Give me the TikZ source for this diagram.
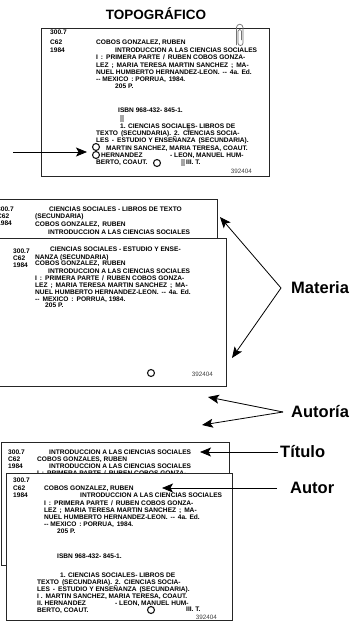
\documentclass[tikz,border=0pt]{standalone}
\usepackage{fontspec}
\setmainfont{Liberation Sans}
\usetikzlibrary{arrows.meta}
\newcommand{\crdtxt}[4]{\node[ctxt] (#1) at (#2,#3) {#4};}
\tikzset{
 ctxt/.style={anchor=base west, inner sep=0pt, yshift=-2.3pt, font=\fontsize{6.6}{7}\selectfont\bfseries, text=black},
 num/.style={anchor=base east, inner sep=0pt, yshift=-2.3pt, font=\fontsize{6.3}{7}\selectfont, text=black!75},
 card/.style={draw=black!85, fill=white, line width=0.8pt},
 hole/.style={circle, draw=black!90, line width=1.1pt, minimum size=7pt, inner sep=0pt},
 lbl/.style={anchor=west, inner sep=0pt, font=\fontsize{16.5}{18}\selectfont\bfseries},
 ttl/.style={inner sep=0pt, font=\fontsize{13.5}{15}\selectfont\bfseries},
 arr/.style={line width=0.8pt, -{Stealth[length=11pt,width=9pt,inset=2.5pt]}},
 blot/.style={fill=black!35},
 clipw/.style={draw=black!55, line width=0.7pt}
}
\begin{document}
\begin{tikzpicture}[x=1pt,y=-1pt]
\clip (0,0) rectangle (353,622);
\fill[white] (0,0) rectangle (353,622);

% ---------- title
\node[ttl] (topo) at (156,14) {TOPOGRÁFICO};

% ---------- card 1 (topografico)
\draw[card] (41,28) rectangle (269,176);
\fill[blot] (120,115) rectangle (124,122);
\fill[blot] (187,125) rectangle (190,132);
\fill[blot] (181,159) rectangle (185,166);
\crdtxt{a1}{50}{32}{300.7}
\crdtxt{a2}{50}{42}{C62}
\crdtxt{a3}{50}{50}{1984}
\crdtxt{a4}{96}{42}{COBOS GONZALEZ, RUBEN}
\crdtxt{a5}{115}{50}{INTRODUCCION A LAS CIENCIAS SOCIALES}
\crdtxt{a6}{96}{57}{I \,:\, PRIMERA PARTE \,/\, RUBEN COBOS GONZA-}
\crdtxt{a7}{96}{65}{LEZ \,;\, MARIA TERESA MARTIN SANCHEZ \,;\, MA-}
\crdtxt{a8}{96}{72}{NUEL HUMBERTO HERNANDEZ-LEON. \,-{}- \,4a. Ed.}
\crdtxt{a9}{96}{79}{-{}- MEXICO \,: PORRUA, \,1984.}
\crdtxt{a10}{115}{86}{205 P.}
\crdtxt{a11}{118}{110}{ISBN 968-432- 845-1.}
\crdtxt{a12}{120}{126}{1. CIENCIAS SOCIALES- LIBROS DE}
\crdtxt{a13}{96}{133}{TEXTO \,(SECUNDARIA). \,2. \,CIENCIAS SOCIA-}
\crdtxt{a14}{96}{140}{LES \,- \,ESTUDIO Y ENSEÑANZA \,(SECUNDARIA).}
\crdtxt{a15}{106}{148}{MARTIN SANCHEZ, MARIA TERESA, COAUT.}
\crdtxt{a16}{101}{155}{HERNANDEZ}
\crdtxt{a17}{170}{155}{- LEON, MANUEL HUM-}
\crdtxt{a18}{96}{162}{BERTO, COAUT.}
\crdtxt{a19}{186}{162}{III. T.}
\node[num] (a20) at (252,171) {392404};
\node[hole] (h1) at (96,147) {};
\node[hole] (h2) at (96,155) {};
\node[hole] (h3) at (157,163) {};
% paper clip
\draw[clipw] (236.5,45) -- (236.5,27.5) arc[start angle=180,end angle=0,radius=3.25pt]
  -- (243,43) arc[start angle=0,end angle=-180,radius=2.5pt] -- (238,31)
  arc[start angle=180,end angle=0,radius=1.75pt] -- (241.5,40);
% arrow to holes
\coordinate (la0) at (13,152);
\coordinate (la1) at (87,152);
\draw[arr] (la0) -- (la1);

% ---------- card 2 (materia, back)
\draw[card] (-5,199) rectangle (217,246);
\crdtxt{b1}{-3}{209}{300.7}
\crdtxt{b2}{-3}{216}{C62}
\crdtxt{b3}{-3}{223}{1984}
\crdtxt{b4}{49}{209}{CIENCIAS SOCIALES - LIBROS DE TEXTO}
\crdtxt{b5}{35}{216}{(SECUNDARIA)}
\crdtxt{b6}{35}{224}{COBOS GONZALEZ, \,RUBEN}
\crdtxt{b7}{48}{232}{INTRODUCCION A LAS CIENCIAS SOCIALES}

% ---------- card 3 (materia, front)
\draw[card] (-3,238) rectangle (226,386);
\crdtxt{c1}{13}{251}{300.7}
\crdtxt{c2}{13}{258}{C62}
\crdtxt{c3}{13}{265}{1984}
\crdtxt{c4}{50}{249}{CIENCIAS SOCIALES - ESTUDIO Y ENSE-}
\crdtxt{c5}{35}{257}{NANZA (SECUNDARIA)}
\crdtxt{c6}{35}{263}{COBOS GONZALEZ, \,RUBEN}
\crdtxt{c7}{48}{271}{INTRODUCCION A LAS CIENCIAS SOCIALES}
\crdtxt{c8}{35}{278}{I \,:\, PRIMERA PARTE \,/\, RUBEN COBOS GONZA-}
\crdtxt{c9}{35}{285}{LEZ \,;\, MARIA TERESA MARTIN SANCHEZ \,;\, MA-}
\crdtxt{c10}{35}{292}{NUEL HUMBERTO HERNANDEZ-LEON. \,-{}- \,4a. Ed.}
\crdtxt{c11}{35}{299}{-{}- \,MEXICO \,:\, PORRUA, 1984.}
\crdtxt{c12}{45}{305}{205 P.}
\node[hole] (h4) at (151,373) {};
\node[num] (c13) at (213,374) {392404};

% ---------- card 4 (titulo, back)
\draw[card] (1,442) rectangle (229,565);
\crdtxt{d1}{8}{452}{300.7}
\crdtxt{d2}{8}{459}{C62}
\crdtxt{d3}{8}{466}{1984}
\crdtxt{d4}{49}{452}{INTRODUCCION A LAS CIENCIAS SOCIALES}
\crdtxt{d5}{37}{459}{COBOS GONZALES, RUBEN}
\crdtxt{d6}{49}{466}{INTRODUCCION A LAS CIENCIAS SOCIALES}
\crdtxt{d7}{37}{473}{I \,:\, PRIMERA PARTE \,/\, RUBEN COBOS GONZA-}

% ---------- card 5 (autor, front)
\draw[card] (6,473) rectangle (232,620.6);
\crdtxt{e1}{13}{480}{300.7}
\crdtxt{e2}{13}{488}{C62}
\crdtxt{e3}{13}{495}{1984}
\crdtxt{e4}{44}{488}{COBOS GONZALEZ, RUBEN}
\crdtxt{e5}{80}{495}{INTRODUCCION A LAS CIENCIAS SOCIALES}
\crdtxt{e6}{44}{503}{I \,:\, PRIMERA PARTE \,/\, RUBEN COBOS GONZA-}
\crdtxt{e7}{44}{510}{LEZ \,;\, MARIA TERESA MARTIN SANCHEZ \,;\, MA-}
\crdtxt{e8}{44}{517}{NUEL HUMBERTO HERNANDEZ-LEON. \,-{}- \,4a. Ed.}
\crdtxt{e9}{44}{524}{-{}- MEXICO \,: PORRUA, \,1984.}
\crdtxt{e10}{57}{531}{205 P.}
\crdtxt{e11}{57}{556}{ISBN 968-432- 845-1.}
\crdtxt{e12}{60}{575}{1. CIENCIAS SOCIALES- LIBROS DE}
\crdtxt{e13}{37}{582}{TEXTO \,(SECUNDARIA). \,2. \,CIENCIAS SOCIA-}
\crdtxt{e14}{37}{589}{LES \,- \,ESTUDIO Y ENSEÑANZA \,(SECUNDARIA).}
\crdtxt{e15}{37}{596}{I . \,MARTIN SANCHEZ, MARIA TERESA, COAUT.}
\crdtxt{e16}{37}{603}{II. HERNANDEZ}
\crdtxt{e17}{115}{603}{- LEON, MANUEL HUM-}
\crdtxt{e18}{37}{610}{BERTO, COAUT.}
\crdtxt{e19}{186}{609}{III. T.}
\node[hole] (h5) at (151,610) {};
\node[num] (e20) at (217,617) {392404};

% ---------- labels and connectors
\node[lbl] (mat) at (291,288) {Materia};
\coordinate (matj) at (281,288);
\coordinate (matA) at (220,217);
\coordinate (matB) at (232,358);
\draw[arr] (matj) -- (matA);
\draw[arr] (matj) -- (matB);

\node[lbl] (aut) at (291,412) {Autoría};
\coordinate (autj) at (283,412);
\coordinate (autA) at (208,397);
\coordinate (autB) at (202,425);
\draw[arr] (autj) -- (autA);
\draw[arr] (autj) -- (autB);

\node[lbl] (tit) at (280,452) {Título};
\coordinate (titA) at (200,452);
\draw[arr] ([xshift=-2pt]tit.west) -- (titA);

\node[lbl] (autor) at (290,488) {Autor};
\coordinate (autorj) at (277,488);
\coordinate (autorA) at (162,488);
\draw[arr] (autorj) -- (autorA);
\end{tikzpicture}
\end{document}
